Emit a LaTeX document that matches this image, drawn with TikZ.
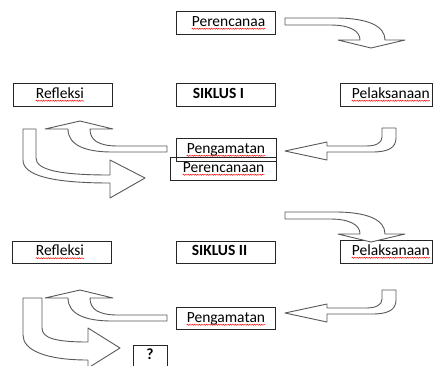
\documentclass[tikz,border=0pt]{standalone}
\usepackage{fontspec}
\setmainfont{Carlito}
\usetikzlibrary{calc,decorations.pathmorphing}
\begin{document}
\begin{tikzpicture}[x=1pt,y=-1pt,
  box/.style={draw=black!85, line width=0.7pt, inner sep=0pt},
  txt/.style={anchor=base west, inner sep=0pt, font=\fontsize{15.5}{18}\selectfont},
  btxt/.style={anchor=base west, inner sep=0pt, font=\fontsize{15.5}{18}\selectfont\bfseries},
  squig/.style={red, line width=0.45pt, decorate, decoration={snake, amplitude=0.6pt, segment length=2.4pt}},
  blk/.style={draw=black!65, fill=white, line width=0.9pt, line join=round}]
\useasboundingbox (0,0) rectangle (433,365);
\clip (0,0) rectangle (433,365);

% ---------- boxes ----------
\node[box, minimum width=99,  minimum height=23] (b1)  at (225.5,22.5) {};
\node[box, minimum width=99,  minimum height=23] (b2)  at (62.5,94.5) {};
\node[box, minimum width=99,  minimum height=23] (b3)  at (225.5,94.5) {};
\node[box, minimum width=92,  minimum height=23] (b4)  at (386,94.5) {};
\node[box, minimum width=100, minimum height=23] (b5)  at (226,149.5) {};
\node[box, minimum width=106, minimum height=23] (b6)  at (223,168.5) {};
\node[box, minimum width=99,  minimum height=22] (b7)  at (61.5,252) {};
\node[box, minimum width=99,  minimum height=22] (b8)  at (225.5,252) {};
\node[box, minimum width=92,  minimum height=23] (b9)  at (386,251.5) {};
\node[box, minimum width=99,  minimum height=22] (b10) at (225.5,318) {};
\node[box, minimum width=34,  minimum height=27] (b11) at (150,358.5) {};

% ---------- texts ----------
\node[txt]  (t1)  at ($(b1.north west)+(16,15.5)$)  {Perencanaa};
\node[txt]  (t2)  at ($(b2.north west)+(23,15.5)$)  {Refleksi};
\node[btxt] (t3)  at ($(b3.north west)+(17,15.5)$)  {SIKLUS I};
\node[txt]  (t4)  at ($(b4.north west)+(12,15.5)$)  {Pelaksanaan};
\node[txt]  (t5)  at ($(b5.north west)+(11,15.5)$)  {Pengamatan};
\node[txt]  (t6)  at ($(b6.north west)+(13,15.5)$)  {Perencanaan};
\node[txt]  (t7)  at ($(b7.north west)+(24,15)$)    {Refleksi};
\node[btxt] (t8)  at ($(b8.north west)+(16,15)$)    {SIKLUS II};
\node[txt]  (t9)  at ($(b9.north west)+(12,15.5)$)  {Pelaksanaan};
\node[txt]  (t10) at ($(b10.north west)+(11,15.5)$) {Pengamatan};
\node[btxt, anchor=base] (t11) at ($(b11.north)+(0,15)$) {?};

% ---------- spelling squiggles ----------
\foreach \t in {t1,t2,t4,t5,t6,t7,t9,t10}{
  \draw[squig] ([yshift=-2.6pt]\t.base west) -- ([yshift=-2.6pt]\t.base east);
}

% ---------- block arrows ----------
% top arrows (Perencanaan -> Pelaksanaan)
\foreach \dy in {0,194}{
\begin{scope}[shift={(0,\dy)}]
\draw[blk] (285,18) -- (335,18) .. controls (368,18) and (385,26) .. (385,40)
  -- (405,40) -- (371,48) -- (338,40) -- (360,40)
  .. controls (360,31) and (350,25) .. (330,25) -- (285,25) -- cycle;
\end{scope}}
% right arrows (Pelaksanaan -> Pengamatan)
\foreach \dy in {0,162}{
\begin{scope}[shift={(0,\dy)}]
\draw[blk] (382,128) -- (396,128) -- (396,138) .. controls (396,148) and (388,152) .. (372,152)
  -- (327,152) -- (327,160) -- (285,151) -- (327,142) -- (327,146) -- (366,146)
  .. controls (376,146) and (382,143) .. (382,137) -- cycle;
\end{scope}}
% up arrows (Pengamatan -> Refleksi)
\foreach \dy in {0,169}{
\begin{scope}[shift={(0,\dy)}]
\draw[blk] (167,146) -- (118,146) .. controls (98,146) and (90,140) .. (90,129)
  -- (113,129) -- (80,121) -- (45,129) -- (68,129)
  .. controls (68,145) and (85,152) .. (112,152) -- (167,152) -- cycle;
\end{scope}}
% down-right arrow (Refleksi -> Perencanaan)
\draw[blk] (23,129) -- (36,129) -- (36,158) .. controls (36,170) and (60,175) .. (110,175)
  -- (110,160) -- (145,178) -- (110,198) -- (110,183)
  .. controls (50,183) and (23,175) .. (23,160) -- cycle;
% down-right arrow (Refleksi -> ?)
\draw[blk] (23,298) -- (42,298) -- (42,328) .. controls (42,338) and (55,342) .. (88,342)
  -- (88,328) -- (120,348) -- (88,368) -- (88,360)
  .. controls (45,360) and (23,350) .. (23,335) -- cycle;
\end{tikzpicture}
\end{document}
